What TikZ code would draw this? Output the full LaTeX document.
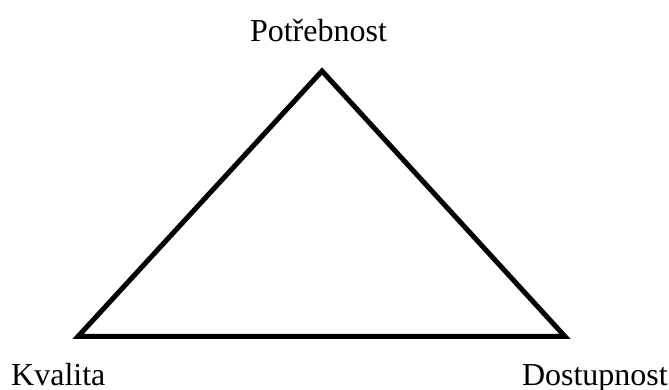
\documentclass[tikz,border=0pt]{standalone}
\usepackage{fontspec}
\setmainfont{Liberation Serif}
\begin{document}
\begin{tikzpicture}[x=1pt,y=1pt,
  lbl/.style={inner sep=0pt,font=\fontsize{32}{36}\selectfont},
  edge/.style={draw=black,line width=5pt,line join=miter}]
\useasboundingbox (0,0) rectangle (669,390);
\coordinate (A) at (322,319);
\coordinate (B) at (78,53.5);
\coordinate (C) at (565,53.5);
\draw[edge] (A) -- (B) -- (C) -- cycle;
\node[lbl,anchor=base] (top) at (318.5,348) {Potřebnost};
\node[lbl,anchor=base west] (left) at (11,4) {Kvalita};
\node[lbl,anchor=base east] (right) at (668,4) {Dostupnost};
\end{tikzpicture}
\end{document}
